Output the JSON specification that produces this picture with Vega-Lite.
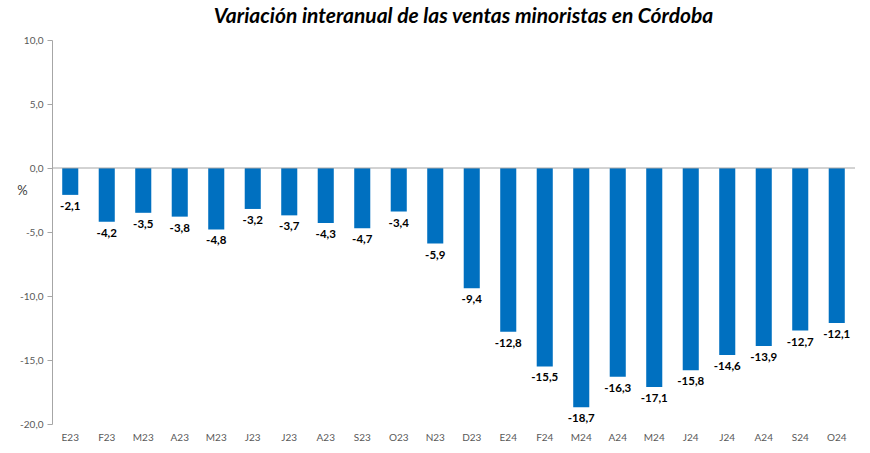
{
  "$schema": "https://vega.github.io/schema/vega-lite/v6.json",
  "autosize": {"type": "none"},
  "width": 803,
  "height": 384,
  "padding": {"left": 52, "top": 40, "right": 15, "bottom": 29},
  "background": "white",
  "config": {
    "view": {"stroke": null},
    "locale": {"number": {"decimal": ",", "thousands": ".", "grouping": [3], "currency": ["", " €"], "minus": "-"}}
  },
  "title": {
    "text": "Variación interanual de las ventas minoristas en Córdoba",
    "font": "Lato",
    "fontSize": 21,
    "fontWeight": "bold",
    "fontStyle": "italic",
    "color": "#000000",
    "anchor": "middle",
    "dx": 10,
    "offset": 8
  },
  "data": {
    "values": [
      {"i": 1, "v": -2.1}, {"i": 2, "v": -4.2}, {"i": 3, "v": -3.5}, {"i": 4, "v": -3.8},
      {"i": 5, "v": -4.8}, {"i": 6, "v": -3.2}, {"i": 7, "v": -3.7}, {"i": 8, "v": -4.3},
      {"i": 9, "v": -4.7}, {"i": 10, "v": -3.4}, {"i": 11, "v": -5.9}, {"i": 12, "v": -9.4},
      {"i": 13, "v": -12.8}, {"i": 14, "v": -15.5}, {"i": 15, "v": -18.7}, {"i": 16, "v": -16.3},
      {"i": 17, "v": -17.1}, {"i": 18, "v": -15.8}, {"i": 19, "v": -14.6}, {"i": 20, "v": -13.9},
      {"i": 21, "v": -12.7}, {"i": 22, "v": -12.1}
    ]
  },
  "encoding": {
    "x": {
      "field": "i", "type": "ordinal",
      "scale": {"paddingInner": 0.56, "paddingOuter": 0.28},
      "axis": {
        "title": null, "domain": false, "ticks": false, "labelAngle": 0,
        "labelFont": "Lato", "labelFontSize": 10, "labelColor": "#595959", "labelPadding": 8,
        "labelExpr": "['E23','F23','M23','A23','M23','J23','J23','A23','S23','O23','N23','D23','E24','F24','M24','A24','M24','J24','J24','A24','S24','O24'][toNumber(datum.value)-1]"
      }
    }
  },
  "layer": [
    {
      "mark": {"type": "bar", "color": "#0070C0"},
      "encoding": {
        "y": {
          "field": "v", "type": "quantitative",
          "scale": {"domain": [-20, 10], "nice": false},
          "axis": {
            "values": [-20, -15, -10, -5, 0, 5, 10], "format": ".1f", "grid": false,
            "domainColor": "#A6A6A6", "tickColor": "#A6A6A6", "tickSize": 5,
            "labelFont": "Lato", "labelFontSize": 10, "labelColor": "#595959", "labelPadding": 4,
            "title": "%", "titleAngle": 0, "titleFont": "Lato", "titleFontSize": 13,
            "titleFontWeight": "normal", "titleColor": "#404040",
            "titleX": -30, "titleY": 150, "titleAlign": "center", "titleBaseline": "middle"
          }
        }
      }
    },
    {
      "mark": {"type": "rule", "color": "#A6A6A6", "strokeWidth": 1},
      "data": {"values": [{"z": 0}]},
      "encoding": {"y": {"field": "z", "type": "quantitative"}, "x": {"value": 0}, "x2": {"value": 803}}
    },
    {
      "mark": {"type": "text", "baseline": "top", "dy": 6, "font": "Lato", "fontSize": 11.5, "fontWeight": "bold", "color": "#000000"},
      "encoding": {
        "y": {"field": "v", "type": "quantitative"},
        "text": {"field": "v", "type": "quantitative", "format": ".1f"}
      }
    }
  ]
}
